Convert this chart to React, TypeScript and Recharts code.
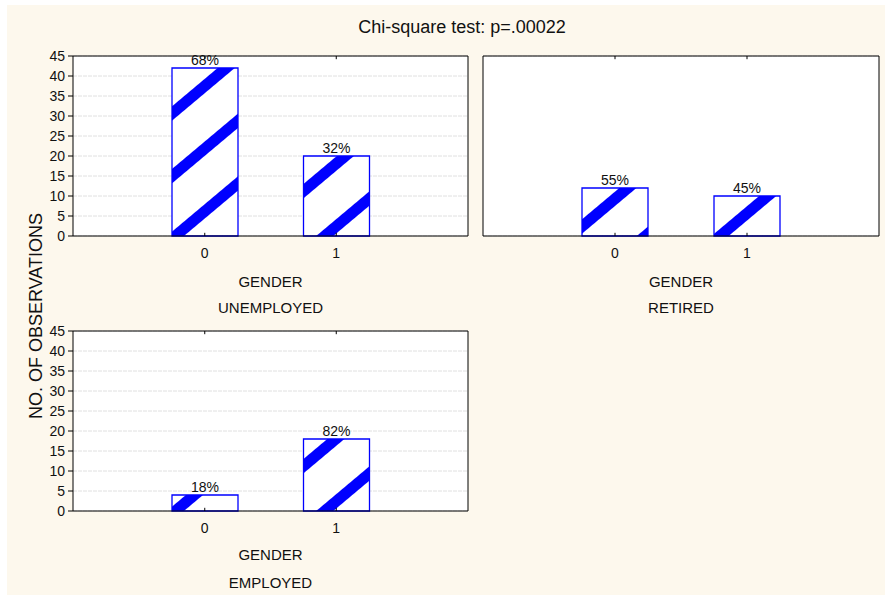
import React from 'react';
import {
  BarChart,
  Bar,
  XAxis,
  YAxis,
  CartesianGrid,
  ReferenceLine,
  LabelList,
} from 'recharts';

// ---- data ----
const genderCats = ['0', '1'];
const unemployedCounts = [42, 20];
const unemployedPct = ['68%', '32%'];
const retiredCounts = [12, 10];
const retiredPct = ['55%', '45%'];
const employedCounts = [4, 18];
const employedPct = ['18%', '82%'];
const yTicks = [0, 5, 10, 15, 20, 25, 30, 35, 40, 45];
const yMax = 45;

const titleText = 'Chi-square test: p=.00022';
const yLabelText = 'NO. OF OBSERVATIONS';
const xLabelText = 'GENDER';
const panelNames = ['UNEMPLOYED', 'RETIRED', 'EMPLOYED'];

const FONT = '"Liberation Sans", Arial, Helvetica, sans-serif';
const BEIGE = '#fdf8ed';
const BLUE = '#0000ff';

const rowsOf = (counts: number[], pcts: string[]) =>
  genderCats.map((g, i) => ({ g, n: counts[i], pct: pcts[i] }));

type PanelProps = {
  rows: { g: string; n: number; pct: string }[];
  showY: boolean;
  pid: string;
  width: number;
  height: number;
  margin: { top: number; right: number; bottom: number; left: number };
};

function Panel({ rows, showY, pid, width, height, margin }: PanelProps) {
  return (
    <BarChart
      width={width}
      height={height}
      data={rows}
      margin={margin}
      barSize={66}
      style={{ fontFamily: FONT }}
    >
      <defs>
        <pattern
          id={pid}
          patternUnits="userSpaceOnUse"
          width={8}
          height={48}
          patternTransform="rotate(-40)"
        >
          <rect x={0} y={0} width={8} height={48} fill="#ffffff" />
          <rect x={0} y={0} width={8} height={11} fill={BLUE} />
        </pattern>
      </defs>
      <CartesianGrid
        vertical={false}
        stroke="#e0e0e0"
        strokeDasharray="4 1"
        fill="#ffffff"
      />
      <XAxis
        dataKey="g"
        type="category"
        padding={{ left: 66, right: 66 }}
        axisLine={{ stroke: '#000' }}
        tickLine={false}
        tickSize={8}
        tickMargin={4}
        tick={{ fontSize: 14, fill: '#111', fontFamily: FONT }}
        height={30}
      />
      {showY ? (
        <YAxis
          domain={[0, yMax]}
          ticks={yTicks}
          interval={0}
          width={73}
          tickSize={5}
          tickMargin={3}
          axisLine={{ stroke: '#000' }}
          tickLine={{ stroke: '#000' }}
          tick={{ fontSize: 14, fill: '#111', fontFamily: FONT }}
        />
      ) : (
        <YAxis
          domain={[0, yMax]}
          ticks={yTicks}
          interval={0}
          mirror
          tick={false}
          tickSize={3}
          axisLine={{ stroke: '#000' }}
          tickLine={{ stroke: '#000' }}
        />
      )}
      <YAxis
        yAxisId="r"
        orientation="right"
        domain={[0, yMax]}
        ticks={yTicks}
        interval={0}
        mirror
        tick={false}
        tickSize={3}
        axisLine={{ stroke: '#000' }}
        tickLine={{ stroke: '#000' }}
      />
      <ReferenceLine y={yMax} stroke="#000" />
      {genderCats.map((c) => (
        <ReferenceLine
          key={'b' + c}
          segment={[
            { x: c, y: 0 },
            { x: c, y: 0.8 },
          ]}
          stroke="#000"
        />
      ))}
      {genderCats.map((c) => (
        <ReferenceLine
          key={'t' + c}
          segment={[
            { x: c, y: yMax },
            { x: c, y: yMax - 0.8 },
          ]}
          stroke="#000"
        />
      ))}
      <Bar
        dataKey="n"
        fill={`url(#${pid})`}
        stroke={BLUE}
        strokeWidth={1.3}
        isAnimationActive={false}
      >
        <LabelList
          dataKey="pct"
          position="top"
          offset={3}
          style={{ fontSize: 14, fill: '#111', fontFamily: FONT }}
        />
      </Bar>
    </BarChart>
  );
}

export default function App() {
  const txt = { fontFamily: FONT, fill: '#111' };
  return (
    <div
      style={{
        position: 'absolute',
        left: 0,
        top: 0,
        width: 885,
        height: 595,
        background: '#ffffff',
        overflow: 'hidden',
      }}
    >
      <div
        style={{
          position: 'absolute',
          left: 7,
          top: 5,
          width: 878,
          height: 590,
          background: BEIGE,
        }}
      />
      <div style={{ position: 'absolute', left: 0, top: 0 }}>
        <Panel
          rows={rowsOf(unemployedCounts, unemployedPct)}
          showY
          pid="hatchA"
          width={480}
          height={300}
          margin={{ top: 56, right: 12, bottom: 34, left: 0 }}
        />
      </div>
      <div style={{ position: 'absolute', left: 470, top: 0 }}>
        <Panel
          rows={rowsOf(retiredCounts, retiredPct)}
          showY={false}
          pid="hatchB"
          width={415}
          height={300}
          margin={{ top: 56, right: 6, bottom: 34, left: 13 }}
        />
      </div>
      <div style={{ position: 'absolute', left: 0, top: 275 }}>
        <Panel
          rows={rowsOf(employedCounts, employedPct)}
          showY
          pid="hatchC"
          width={480}
          height={300}
          margin={{ top: 56, right: 12, bottom: 34, left: 0 }}
        />
      </div>
      <svg
        width={885}
        height={595}
        style={{ position: 'absolute', left: 0, top: 0, pointerEvents: 'none' }}
      >
        <text x={462} y={27} fontSize={18} textAnchor="middle" dominantBaseline="central" style={txt}>
          {titleText}
        </text>
        <text
          x={0}
          y={0}
          fontSize={18}
          textAnchor="middle"
          dominantBaseline="central"
          transform="translate(36,316) rotate(-90)"
          style={txt}
        >
          {yLabelText}
        </text>
        <text x={270.5} y={281} fontSize={15} textAnchor="middle" dominantBaseline="central" style={txt}>
          {xLabelText}
        </text>
        <text x={270.5} y={307.5} fontSize={15} textAnchor="middle" dominantBaseline="central" style={txt}>
          {panelNames[0]}
        </text>
        <text x={681} y={281} fontSize={15} textAnchor="middle" dominantBaseline="central" style={txt}>
          {xLabelText}
        </text>
        <text x={681} y={307.5} fontSize={15} textAnchor="middle" dominantBaseline="central" style={txt}>
          {panelNames[1]}
        </text>
        <text x={270.5} y={554.5} fontSize={15} textAnchor="middle" dominantBaseline="central" style={txt}>
          {xLabelText}
        </text>
        <text x={270.5} y={582.5} fontSize={15} textAnchor="middle" dominantBaseline="central" style={txt}>
          {panelNames[2]}
        </text>
      </svg>
    </div>
  );
}
